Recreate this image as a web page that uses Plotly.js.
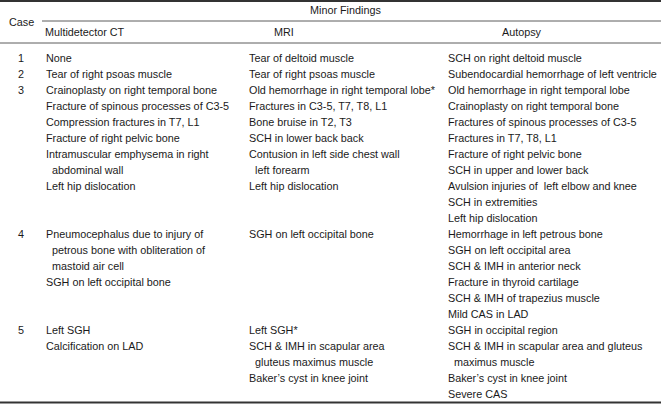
<!DOCTYPE html>
<html>
<head>
<meta charset="utf-8">
<script src="https://cdn.plot.ly/plotly-3.0.1.min.js"></script>
<style>html,body{margin:0;padding:0;background:#fff;}#chart{width:661px;height:407px;}</style>
</head>
<body>
<div id="chart"></div>
<script>
// ---- data ----
const caseLabels = ['1', '2', '3', '4', '5'];
const columnHeaders = ['Multidetector CT', 'MRI', 'Autopsy'];
const groupHeader = 'Minor Findings';
const caseHeader = 'Case';
const IND = '\u00a0\u00a0';
const ctFindings = [
  ['None'],
  ['Tear of right psoas muscle'],
  ['Crainoplasty on right temporal bone', 'Fracture of spinous processes of C3-5', 'Compression fractures in T7, L1',
   'Fracture of right pelvic bone', 'Intramuscular emphysema in right', IND + 'abdominal wall', 'Left hip dislocation'],
  ['Pneumocephalus due to injury of', IND + 'petrous bone with obliteration of', IND + 'mastoid air cell', 'SGH on left occipital bone'],
  ['Left SGH', 'Calcification on LAD']
];
const mriFindings = [
  ['Tear of deltoid muscle'],
  ['Tear of right psoas muscle'],
  ['Old hemorrhage in right temporal lobe*', 'Fractures in C3-5, T7, T8, L1', 'Bone bruise in T2, T3', 'SCH in lower back back',
   'Contusion in left side chest wall', IND + 'left forearm', 'Left hip dislocation'],
  ['SGH on left occipital bone'],
  ['Left SGH*', 'SCH & IMH in scapular area', IND + 'gluteus maximus muscle', 'Baker\u2019s cyst in knee joint']
];
const autopsyFindings = [
  ['SCH on right deltoid muscle'],
  ['Subendocardial hemorrhage of left ventricle'],
  ['Old hemorrhage in right temporal lobe', 'Crainoplasty on right temporal bone', 'Fractures of spinous processes of C3-5',
   'Fractures in T7, T8, L1', 'Fracture of right pelvic bone', 'SCH in upper and lower back',
   'Avulsion injuries of  left elbow and knee', 'SCH in extremities', 'Left hip dislocation'],
  ['Hemorrhage in left petrous bone', 'SGH on left occipital area', 'SCH & IMH in anterior neck', 'Fracture in thyroid cartilage',
   'SCH & IMH of trapezius muscle', 'Mild CAS in LAD'],
  ['SGH in occipital region', 'SCH & IMH in scapular area and gluteus', IND + 'maximus muscle', 'Baker\u2019s cyst in knee joint', 'Severe CAS']
];

// ---- layout geometry ----
const W = 661, H = 407;
const row0 = 58, rowH = 16;
const colX = [44, 247, 446];
const caseX = 21;
const font = {family: 'Liberation Sans, Arial, sans-serif', size: 10.8, color: '#1a1a1a'};
const lineColor = '#333';

const columns = [ctFindings, mriFindings, autopsyFindings];
const annotations = [];
const shapes = [];

function txt(x, y, t, anchor) {
  annotations.push({x: x, y: y, xref: 'x', yref: 'y', text: t.replace(/  /g, '\u00a0\u00a0'), showarrow: false,
    xanchor: anchor || 'left', yanchor: 'middle', font: font});
}

let row = 0;
caseLabels.forEach((c, i) => {
  const n = Math.max(...columns.map(col => col[i].length));
  txt(caseX, row0 + row * rowH, c, 'center');
  columns.forEach((col, j) => {
    col[i].forEach((line, k) => txt(colX[j], row0 + (row + k) * rowH, line));
  });
  row += n;
});

// headers
txt(caseX, 21.5, caseHeader, 'center');
txt(345, 10, groupHeader, 'center');
const headCenters = [85, 284, 522];
columnHeaders.forEach((h, j) => txt(headCenters[j], 32, h, 'center'));

// rules
function hline(x0, x1, y, w) {
  shapes.push({type: 'line', xref: 'x', yref: 'y', x0: x0, x1: x1, y0: y, y1: y, line: {color: lineColor, width: w}});
}
hline(0, W, 1, 2);
hline(42, W, 21, 0.8);
hline(0, W, 43, 0.8);
hline(0, W, 402.5, 2);

Plotly.newPlot('chart', [], {
  width: W, height: H,
  margin: {l: 0, r: 0, t: 0, b: 0},
  paper_bgcolor: '#fff', plot_bgcolor: '#fff',
  xaxis: {range: [0, W], visible: false, fixedrange: true},
  yaxis: {range: [H, 0], visible: false, fixedrange: true},
  showlegend: false,
  annotations: annotations,
  shapes: shapes
}, {displayModeBar: false, staticPlot: true});
</script>
</body>
</html>
